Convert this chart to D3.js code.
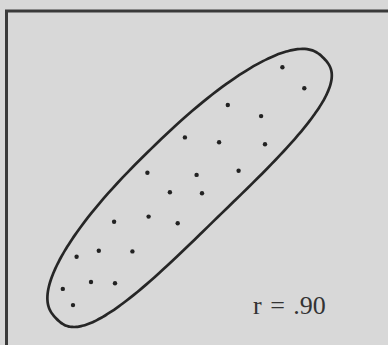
<!DOCTYPE html>
<html>
<head>
<meta charset="utf-8">
<script src="https://cdn.jsdelivr.net/npm/d3@7"></script>
<style>
  html, body { margin: 0; padding: 0; background: #d8d8d8; }
  svg { display: block; }
</style>
</head>
<body>
<svg width="388" height="345"></svg>
<script>
// scatter values (arbitrary units, 0-100 on both axes)
const xValues = [80.8, 88.1, 62.6, 73.7, 48.3, 59.7, 75.0, 35.8, 52.2, 66.2, 43.3,
                 54.0, 24.7, 36.2, 45.9, 12.2, 19.6, 30.8, 7.6, 17.0, 25.0, 11.0];
const yValues = [87.6, 80.6, 75.0, 71.3, 64.2, 62.6, 61.9, 52.4, 51.7, 53.1, 45.9,
                 45.6, 36.1, 37.8, 35.6, 24.4, 26.4, 26.2, 13.7, 16.0, 15.6, 8.3];
const label = "r = .90";

// hand-drawn loop around the points, in data units
const loopCenter = [50.0, 47.2];
const loopAxes = [62.2, 15.9];
const loopAngle = 44.2;   // degrees
const loopPower = 2.6;    // >2 gives the rounder ends
const loopBend = 2.6;     // middle bows a little towards upper left

const svg = d3.select("svg");
const width = 388, height = 345;

const x = d3.scaleLinear().domain([0, 100]).range([40, 340]);
const y = d3.scaleLinear().domain([0, 100]).range([330, 30]);

// frame (cropped on right and bottom)
svg.append("rect")
    .attr("x", 6.5)
    .attr("y", 11)
    .attr("width", 420)
    .attr("height", 400)
    .attr("fill", "none")
    .attr("stroke", "#3a3a3a")
    .attr("stroke-width", 3);

const t = loopAngle * Math.PI / 180;
const sp = (c) => Math.sign(c) * Math.pow(Math.abs(c), 2 / loopPower);
const ring = d3.range(0, 360, 2).map(deg => {
    const a = deg * Math.PI / 180;
    const u = loopAxes[0] * sp(Math.cos(a));
    const k = u / loopAxes[0];
    const v = loopAxes[1] * sp(Math.sin(a)) + loopBend * (1 - k * k);
    return [loopCenter[0] + u * Math.cos(t) - v * Math.sin(t),
            loopCenter[1] + u * Math.sin(t) + v * Math.cos(t)];
});

svg.append("path")
    .datum(ring)
    .attr("d", d3.line().x(d => x(d[0])).y(d => y(d[1])).curve(d3.curveCardinalClosed))
    .attr("fill", "none")
    .attr("stroke", "#262626")
    .attr("stroke-width", 2.7);

svg.selectAll("circle.pt")
    .data(xValues.map((v, i) => [v, yValues[i]]))
    .enter().append("circle")
    .attr("class", "pt")
    .attr("cx", d => x(d[0]))
    .attr("cy", d => y(d[1]))
    .attr("r", 2.2)
    .attr("fill", "#222");

svg.append("text")
    .attr("x", 253)
    .attr("y", 314)
    .attr("font-family", "Liberation Serif, DejaVu Serif, serif")
    .attr("font-size", 26)
    .attr("word-spacing", 2)
    .attr("fill", "#333")
    .attr("xml:space", "preserve")
    .text(label);
</script>
</body>
</html>
